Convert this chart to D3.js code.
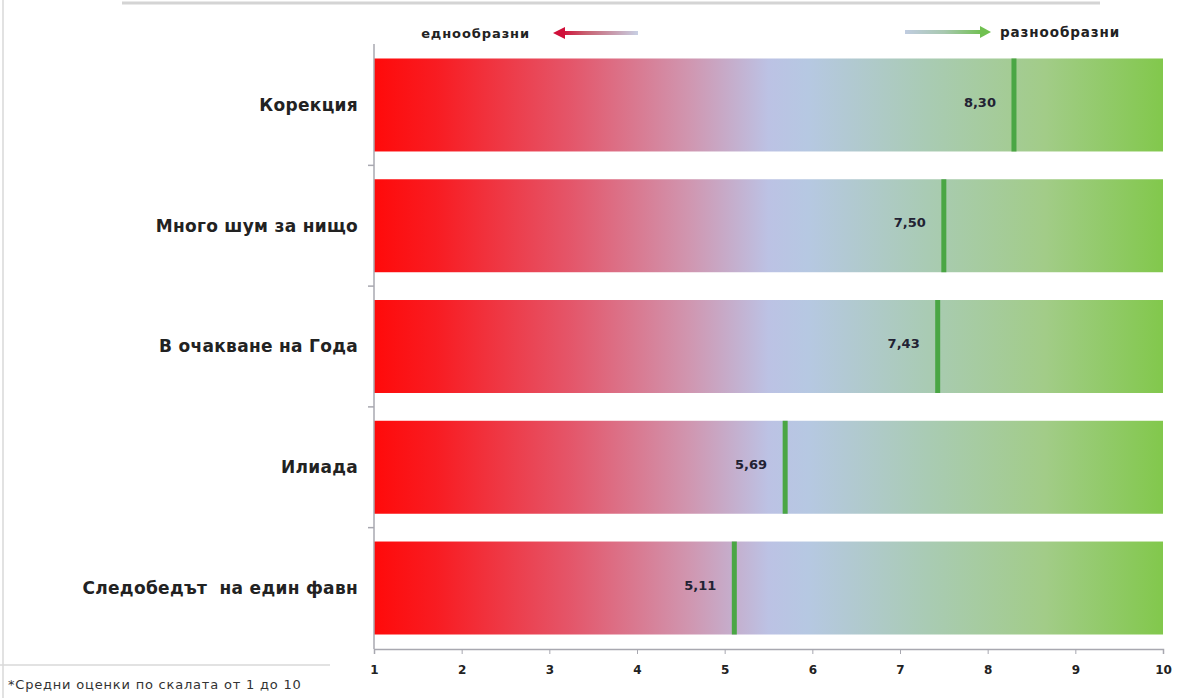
<!DOCTYPE html>
<html><head><meta charset="utf-8">
<script src="https://cdn.jsdelivr.net/npm/d3@7"></script>
<style>body{margin:0;background:#fff;font-family:"DejaVu Sans",sans-serif} text{white-space:pre}</style>
</head><body><svg id="c" width="1177" height="698"></svg>
<script>
const categories = ["Корекция","Много шум за нищо","В очакване на Года","Илиада","Следобедът  на един фавн"];
const values = [8.30, 7.50, 7.43, 5.69, 5.11];
const valueLabels = ["8,30","7,50","7,43","5,69","5,11"];
const ticks = [1,2,3,4,5,6,7,8,9,10];
const legendLeft = "еднообразни", legendRight = "разнообразни";
const footnote = "*Средни оценки по скалата от 1 до 10";

const svg = d3.select("#c");
const defs = svg.append("defs");
const g1 = defs.append("linearGradient").attr("id","bg").attr("x1","0").attr("x2","1");
[[0,"#ff0a0a"],[0.08,"#f81c22"],[0.25,"#e4566a"],[0.4,"#d096b0"],[0.5,"#bcc2e4"],[0.55,"#b6c8e2"],[0.7,"#a9cbb4"],[0.85,"#a2cc88"],[1,"#82c84c"]]
 .forEach(([o,c])=>g1.append("stop").attr("offset",o).attr("stop-color",c));
const gl = defs.append("linearGradient").attr("id","al").attr("x1","0").attr("x2","1");
[[0,"#d0103a"],[0.3,"#c86070"],[1,"#c8d0e4"]].forEach(([o,c])=>gl.append("stop").attr("offset",o).attr("stop-color",c));
const gr = defs.append("linearGradient").attr("id","ar").attr("x1","0").attr("x2","1");
[[0,"#c0cce0"],[0.5,"#a8c8b0"],[1,"#70c050"]].forEach(([o,c])=>gr.append("stop").attr("offset",o).attr("stop-color",c));

const x = d3.scaleLinear().domain([1,10]).range([374,1163]);
const y = d3.scaleBand().domain(categories).range([44,649]).paddingInner(0.23).paddingOuter(0.12);

// frame bits
svg.append("line").attr("x1",122).attr("x2",1100).attr("y1",3).attr("y2",3).attr("stroke","#d4d4d4").attr("stroke-width",3);
svg.append("line").attr("x1",3).attr("x2",3).attr("y1",0).attr("y2",698).attr("stroke","#d8d8d8").attr("stroke-width",1.5);
svg.append("line").attr("x1",0).attr("x2",330).attr("y1",665).attr("y2",665).attr("stroke","#d8d8d8").attr("stroke-width",1.5);

// bars
svg.selectAll("rect.bar").data(categories).join("rect")
  .attr("x",x(1)).attr("width",x(10)-x(1))
  .attr("y",d=>y(d)).attr("height",y.bandwidth()).attr("fill","url(#bg)");

// left axis
svg.append("line").attr("x1",x(1)).attr("x2",x(1)).attr("y1",44).attr("y2",649).attr("stroke","#a8a8b0").attr("stroke-width",1.5);
const seps = categories.slice(1).map(c=>y(c)-y.step()*y.paddingInner()/2);
svg.selectAll("line.sep").data(seps).join("line")
  .attr("x1",x(1)-6).attr("x2",x(1)).attr("y1",d=>d).attr("y2",d=>d).attr("stroke","#a8a8b0").attr("stroke-width",1.5);

// category labels
svg.selectAll("text.cat").data(categories).join("text")
  .attr("x",358).attr("y",d=>y(d)+y.bandwidth()/2).attr("dy","0.35em")
  .attr("text-anchor","end").attr("font-weight","bold").attr("font-size",17).attr("letter-spacing",0.3).attr("fill","#222")
  .text(d=>d);

// markers
svg.selectAll("line.mk").data(values).join("line")
  .attr("x1",d=>x(d)).attr("x2",d=>x(d))
  .attr("y1",(d,i)=>y(categories[i])).attr("y2",(d,i)=>y(categories[i])+y.bandwidth())
  .attr("stroke","#4aa644").attr("stroke-width",5);
svg.selectAll("text.val").data(values).join("text")
  .attr("x",d=>x(d)-18).attr("y",(d,i)=>y(categories[i])+y.bandwidth()/2-3).attr("dy","0.35em")
  .attr("text-anchor","end").attr("font-weight","bold").attr("font-size",13).attr("fill","#223")
  .text((d,i)=>valueLabels[i]);

// bottom axis
const ax = svg.append("g").attr("transform","translate(0,649)")
  .call(d3.axisBottom(x).tickValues(ticks).tickSize(5).tickFormat(d3.format("d")));
ax.select(".domain").attr("stroke","#a8a8b0").attr("stroke-width",1.5);
ax.selectAll(".tick line").attr("stroke","#a8a8b0");
ax.selectAll(".tick text").attr("font-size",12).attr("font-weight","bold").attr("fill","#222").attr("dy","1.45em").attr("font-family","DejaVu Sans");

// legend
svg.append("text").attr("x",530).attr("y",33).attr("dy","0.35em").attr("text-anchor","end")
  .attr("font-weight","bold").attr("font-size",13).attr("letter-spacing",0.9).attr("fill","#222").text(legendLeft);
svg.append("rect").attr("x",563).attr("y",31).attr("width",75).attr("height",4).attr("fill","url(#al)");
svg.append("path").attr("d","M553,33 L565,27 L565,39 Z").attr("fill","#d0103a");
svg.append("rect").attr("x",905).attr("y",30).attr("width",78).attr("height",4).attr("fill","url(#ar)");
svg.append("path").attr("d","M991,32 L980,26 L980,38 Z").attr("fill","#70c050");
svg.append("text").attr("x",1000).attr("y",32).attr("dy","0.35em")
  .attr("font-weight","bold").attr("font-size",13.5).attr("letter-spacing",0.9).attr("fill","#222").text(legendRight);

// footnote
svg.append("text").attr("x",8).attr("y",689).attr("font-size",13).attr("letter-spacing",0.8).attr("fill","#333").text(footnote);
</script></body></html>
